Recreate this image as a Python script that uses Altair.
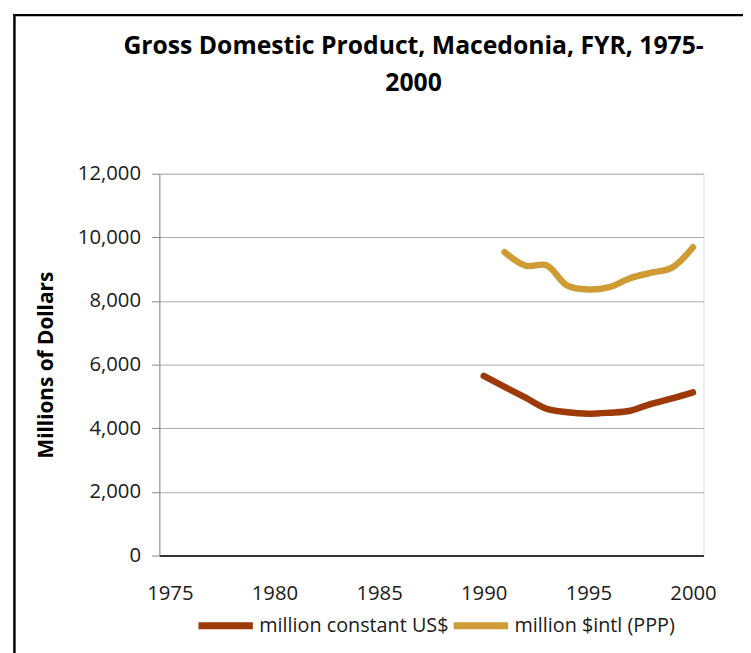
import altair as alt
import pandas as pd

# ---- data ----
years_usd = [1990, 1991, 1992, 1993, 1994, 1995, 1996, 1997, 1998, 1999, 2000]
gdp_usd = [5646, 5300, 4960, 4612, 4503, 4457, 4488, 4550, 4767, 4938, 5130]

years_ppp = [1991, 1992, 1993, 1994, 1995, 1996, 1997, 1998, 1999, 2000]
gdp_ppp = [9534, 9110, 9120, 8480, 8360, 8438, 8717, 8888, 9050, 9690]

series_names = ["million constant US$", "million $intl (PPP)"]
series_colors = ["#9D3A08", "#CF9B35"]
x_ticks = [1975, 1980, 1985, 1990, 1995, 2000]
y_ticks = [0, 2000, 4000, 6000, 8000, 10000, 12000]

rows = [{"year": y, "value": v, "series": series_names[0]} for y, v in zip(years_usd, gdp_usd)]
rows += [{"year": y, "value": v, "series": series_names[1]} for y, v in zip(years_ppp, gdp_ppp)]
df = pd.DataFrame(rows)

FONT = "Open Sans"

lines = alt.Chart(df).mark_line(
    strokeWidth=6.5, strokeCap="round", strokeJoin="round", interpolate="catmull-rom"
).encode(
    x=alt.X("year:Q",
            scale=alt.Scale(domain=[1974.5, 2000.5], nice=False, zero=False),
            axis=alt.Axis(values=x_ticks, format="d", title=None, ticks=False,
                          grid=False, labelFontSize=20.5, labelColor="#1a1a1a",
                          labelFont=FONT, labelPadding=28, domainColor="#000000",
                          domainWidth=1.5, labelFlush=False)),
    y=alt.Y("value:Q",
            scale=alt.Scale(domain=[0, 12000], nice=False),
            axis=alt.Axis(values=y_ticks, format=",d", title="Millions of Dollars",
                          titleFont=FONT, titleFontSize=21, titleFontWeight="bold",
                          titleColor="#000000", titleAngle=-90, titleX=-108, titleY=193,
                          titleAlign="center", titleBaseline="alphabetic",
                          labelFontSize=20.5, labelColor="#1a1a1a", labelFont=FONT,
                          labelPadding=11, tickSize=8, tickColor="#888888",
                          domainColor="#888888", gridColor="#aaaaaa", gridWidth=1)),
    color=alt.Color("series:N",
                    scale=alt.Scale(domain=series_names, range=series_colors),
                    legend=alt.Legend(title=None, orient="none", legendX=36, legendY=426,
                                      direction="horizontal", symbolType="stroke",
                                      symbolSize=3025, symbolStrokeWidth=7,
                                      labelFontSize=20, labelFont=FONT, labelColor="#1a1a1a",
                                      labelOffset=3, columnPadding=-10, labelLimit=400)),
)

frame_df = pd.DataFrame({"k": [0]})
frame_left = alt.Chart(frame_df).mark_rule(color="#000000", strokeWidth=2.5).encode(
    x=alt.value(-146.5), y=alt.value(-160.5), y2=alt.value(520))
frame_top = alt.Chart(frame_df).mark_rule(color="#000000", strokeWidth=2.5).encode(
    y=alt.value(-160.3), x=alt.value(-147.7), x2=alt.value(640))

chart = alt.layer(frame_left, frame_top, lines).properties(
    width=550,
    height=386,
    title=alt.TitleParams(
        text=["Gross Domestic Product, Macedonia, FYR, 1975-", "2000"],
        font=FONT, fontSize=25, fontWeight="bold", color="#000000",
        anchor="middle", baseline="alphabetic", dx=-18, dy=103, offset=0,
        lineHeight=37),
    autosize=alt.AutoSizeParams(type="none"),
    padding={"left": 153, "top": 164, "right": 40, "bottom": 95},
).configure_view(stroke=None).configure(background="white")

chart.save("out.html", embed_options={"renderer": "svg", "actions": False})
